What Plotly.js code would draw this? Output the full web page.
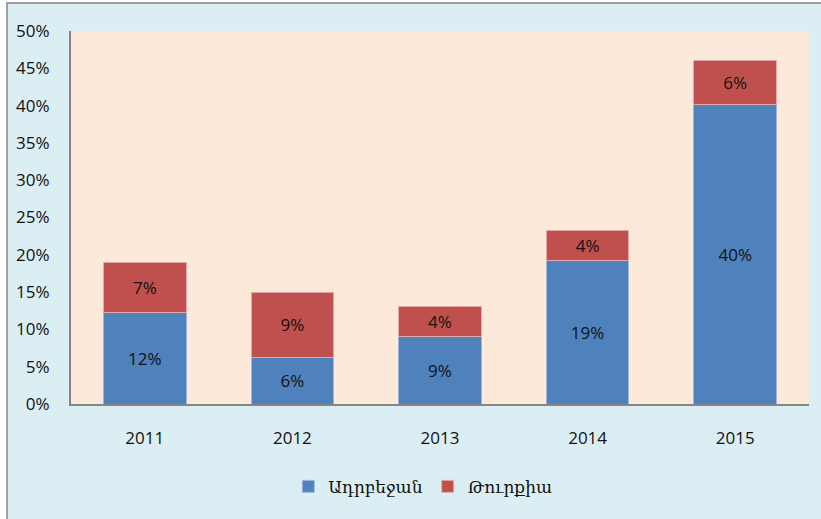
<!DOCTYPE html>
<html>
<head>
<meta charset="utf-8">
<script src="https://cdn.plot.ly/plotly-3.0.1.min.js"></script>
<style>html,body{margin:0;padding:0;background:#fff;}#chart{width:821px;height:519px;}</style>
</head>
<body>
<div id="chart"></div>
<script>
const years = ['2011', '2012', '2013', '2014', '2015'];
const azerbaijan = [12.2, 6.3, 9.1, 19.2, 40.1];
const turkey = [6.8, 8.7, 4.0, 4.0, 5.9];
const seriesNames = ['Ադրբեջան', 'Թուրքիա'];
const yTicks = [0, 5, 10, 15, 20, 25, 30, 35, 40, 45, 50];

const textFont = {family: 'Open Sans, sans-serif', size: 17, color: '#111111'};

const traces = [
  {
    type: 'bar', x: years, y: azerbaijan, name: seriesNames[0],
    marker: {color: '#4F81BD', line: {color: '#9DB7DC', width: 1}},
    texttemplate: '%{y:.0f}%', textposition: 'inside', insidetextanchor: 'middle',
    textangle: 0, constraintext: 'none', textfont: textFont, hoverinfo: 'none'
  },
  {
    type: 'bar', x: years, y: turkey, name: seriesNames[1],
    marker: {color: '#C0504D', line: {color: '#E5A9A7', width: 1}},
    texttemplate: '%{y:.0f}%', textposition: 'inside', insidetextanchor: 'middle',
    textangle: 0, constraintext: 'none', textfont: textFont, hoverinfo: 'none'
  }
];

const layout = {
  width: 821, height: 519,
  margin: {l: 71, r: 12, t: 31, b: 115},
  paper_bgcolor: '#FFFFFF',
  plot_bgcolor: 'rgba(0,0,0,0)',
  barmode: 'stack',
  bargap: 0.44,
  showlegend: true,
  legend: {
    orientation: 'h', xref: 'container', yref: 'container',
    x: 0.515, xanchor: 'center', y: 0.062, yanchor: 'middle',
    font: {family: 'DejaVu Serif, serif', size: 17, color: '#111111'},
    traceorder: 'normal', itemwidth: 30, bgcolor: 'rgba(0,0,0,0)'
  },
  xaxis: {
    type: 'category', showgrid: false, zeroline: false,
    showline: true, linecolor: '#868686', linewidth: 2,
    ticks: '', tickfont: textFont, ticklabelstandoff: 18
  },
  yaxis: {
    range: [0, 50], tickvals: yTicks, ticktext: yTicks.map(v => v + '%'),
    showgrid: false, zeroline: false,
    showline: true, linecolor: '#868686', linewidth: 2,
    ticks: '', tickfont: textFont, ticklabelstandoff: 16
  },
  shapes: [
    {type: 'rect', xref: 'paper', yref: 'paper', layer: 'below',
     x0: -64 / 738, x1: 1.1, y0: -0.5, y1: 1 + 28 / 373,
     fillcolor: '#DBEEF4', line: {color: '#A0A0A0', width: 2}},
    {type: 'rect', xref: 'paper', yref: 'paper', layer: 'below',
     x0: 0, x1: 1, y0: 0, y1: 1,
     fillcolor: '#FDE9DA', line: {width: 0}}
  ]
};

Plotly.newPlot('chart', traces, layout, {displayModeBar: false, staticPlot: true});
</script>
</body>
</html>
